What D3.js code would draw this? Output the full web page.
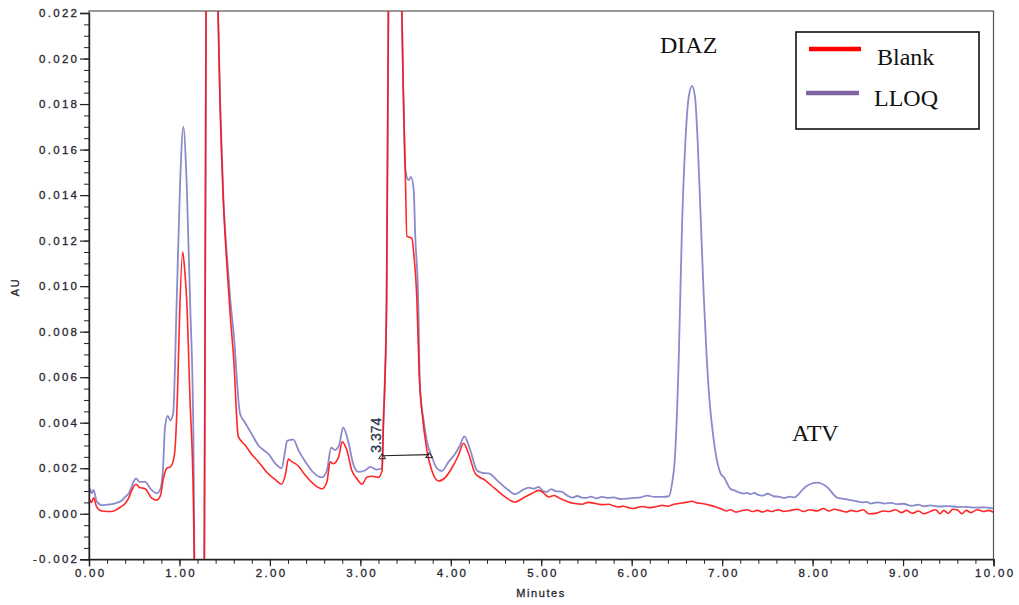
<!DOCTYPE html>
<html><head><meta charset="utf-8">
<script src="https://cdn.jsdelivr.net/npm/d3@7"></script>
<style>
html,body{margin:0;padding:0;background:#fff;}
svg{display:block;}
.tk text{font-family:"Liberation Sans",Arial,sans-serif;font-size:11.5px;letter-spacing:2.3px;fill:#262630;stroke:#262630;stroke-width:0.3px;}
</style></head>
<body><svg id="c" width="1019" height="605"></svg>
<script>
// ---- data (time in minutes, absorbance in AU) ----
const seriesNames = ["Blank", "LLOQ"];
const xTicks = [0,1,2,3,4,5,6,7,8,9,10];
const yTicks = [-0.002,0,0.002,0.004,0.006,0.008,0.010,0.012,0.014,0.016,0.018,0.020,0.022];
const peakLabels = ["DIAZ", "ATV"];
const markerLabel = "3.374";
const markerTimes = [3.241, 3.761];
const markerAU = [0.00255, 0.0026];

const lloq = [
[0.00,0.0008],[0.01,0.0011],[0.03,0.0009],[0.05,0.00105],[0.085,0.00055],[0.14,0.00038],[0.20,0.0004],[0.25,0.00042],
[0.29,0.00046],[0.35,0.00055],[0.40,0.00074],[0.44,0.0009],[0.47,0.00118],[0.52,0.00155],[0.56,0.0014],[0.62,0.0014],
[0.69,0.00105],[0.75,0.0009],[0.79,0.0011],[0.82,0.0021],[0.84,0.0038],[0.87,0.0043],[0.90,0.0041],[0.93,0.0044],
[0.97,0.0094],[1.007,0.0145],[1.043,0.0170],[1.08,0.0145],[1.117,0.0094],[1.154,0.0035],[1.17,-0.004],[1.21,-0.009],
[1.25,-0.006],[1.275,-0.002],[1.30,0.03],[1.36,0.045],[1.41,0.026],[1.427,0.022],[1.449,0.0182],[1.486,0.0138],
[1.52,0.0116],[1.56,0.0095],[1.60,0.0079],[1.67,0.0044],[1.726,0.0040],[1.80,0.0035],[1.873,0.0030],[1.93,0.0028],
[1.99,0.0026],[2.06,0.0022],[2.13,0.0020],[2.17,0.0028],[2.19,0.0032],[2.26,0.00326],[2.315,0.0028],[2.39,0.0023],
[2.46,0.0019],[2.574,0.0016],[2.63,0.0019],[2.677,0.0029],[2.72,0.0028],[2.765,0.0030],[2.81,0.0038],[2.87,0.0031],
[2.92,0.0022],[2.98,0.00184],[3.05,0.0019],[3.11,0.00206],[3.18,0.00194],[3.24,0.0020],[3.255,0.004],[3.27,0.0058],
[3.29,0.0094],[3.31,0.022],[3.34,0.03],[3.40,0.034],[3.45,0.025],[3.459,0.022],[3.477,0.0182],[3.496,0.0152],
[3.532,0.01466],[3.56,0.0148],[3.59,0.01422],[3.606,0.0123],[3.64,0.0094],[3.66,0.0054],[3.70,0.0041],[3.735,0.0032],
[3.79,0.0025],[3.846,0.0020],[3.90,0.00188],[3.975,0.00228],[4.05,0.00265],[4.10,0.0030],[4.15,0.0034],[4.215,0.0028],
[4.29,0.0019],[4.35,0.0018],[4.42,0.00177],[4.53,0.0014],[4.64,0.00103],[4.71,0.00086],[4.79,0.00103],[4.86,0.00115],
[4.92,0.0011],[4.97,0.00118],[5.02,0.0010],[5.06,0.00096],[5.11,0.00108],[5.155,0.0010],[5.23,0.00096],[5.28,0.00082],
[5.34,0.00071],[5.40,0.00078],[5.45,0.00071],[5.50,0.0007],[5.55,0.00075],[5.61,0.00068],[5.67,0.00074],[5.73,0.0007],
[5.80,0.00072],[5.87,0.00065],[5.966,0.00067],[6.05,0.0007],[6.10,0.00072],[6.17,0.0008],[6.25,0.00074],[6.335,0.00074],
[6.41,0.00077],[6.445,0.0013],[6.48,0.0026],[6.52,0.0068],[6.556,0.0126],[6.593,0.0163],[6.63,0.0183],[6.667,0.0188],
[6.70,0.0183],[6.73,0.0163],[6.76,0.0133],[6.795,0.0097],[6.83,0.0068],[6.86,0.0050],[6.89,0.0038],[6.94,0.0024],
[6.98,0.0018],[7.02,0.0016],[7.09,0.0011],[7.15,0.0010],[7.20,0.00092],[7.24,0.00089],[7.28,0.00092],[7.31,0.00086],
[7.36,0.00092],[7.39,0.00084],[7.45,0.0008],[7.50,0.00088],[7.57,0.00077],[7.62,0.00075],[7.68,0.0007],[7.75,0.00075],
[7.80,0.00072],[7.83,0.0008],[7.92,0.00118],[8.05,0.00137],[8.16,0.00118],[8.27,0.00071],[8.35,0.00065],[8.42,0.0006],
[8.48,0.00055],[8.55,0.0005],[8.60,0.00052],[8.64,0.00045],[8.72,0.0005],[8.80,0.00045],[8.87,0.00048],[8.93,0.00042],
[9.00,0.00044],[9.10,0.00035],[9.17,0.0004],[9.23,0.00033],[9.30,0.00037],[9.40,0.00032],[9.50,0.00034],[9.60,0.0003],
[9.70,0.0003],[9.80,0.00027],[9.90,0.00028],[10.0,0.00023]
];

const blank = [
[0.00,0.0004],[0.01,0.0006],[0.03,0.0005],[0.05,0.0007],[0.085,0.0003],[0.14,0.00012],[0.20,0.0001],[0.25,0.0001],
[0.29,0.00015],[0.35,0.0003],[0.40,0.00045],[0.44,0.0007],[0.47,0.0010],[0.52,0.0013],[0.56,0.00115],[0.62,0.0011],
[0.69,0.0007],[0.75,0.0006],[0.79,0.0008],[0.82,0.0015],[0.86,0.0020],[0.90,0.00206],[0.93,0.0023],[0.95,0.0028],
[0.98,0.0055],[1.0,0.0085],[1.036,0.0115],[1.06,0.0106],[1.08,0.0094],[1.117,0.0050],[1.154,0.0006],[1.17,-0.004],
[1.21,-0.009],[1.25,-0.006],[1.275,-0.002],[1.30,0.03],[1.36,0.045],[1.41,0.026],[1.427,0.022],[1.449,0.018],
[1.486,0.0137],[1.52,0.0112],[1.56,0.0088],[1.60,0.0068],[1.65,0.0034],[1.73,0.0030],[1.80,0.0026],[1.87,0.0023],
[1.97,0.0018],[2.06,0.0015],[2.13,0.0013],[2.17,0.0017],[2.205,0.0024],[2.24,0.0023],[2.315,0.0021],[2.39,0.0017],
[2.50,0.00125],[2.574,0.0011],[2.63,0.0014],[2.666,0.00228],[2.70,0.0022],[2.76,0.0025],[2.80,0.00316],[2.85,0.0028],
[2.906,0.0019],[2.96,0.00155],[3.02,0.0013],[3.07,0.0016],[3.13,0.00165],[3.20,0.0016],[3.24,0.0019],[3.255,0.004],
[3.27,0.0056],[3.29,0.0094],[3.31,0.022],[3.34,0.03],[3.40,0.034],[3.45,0.025],[3.459,0.022],[3.477,0.0182],
[3.496,0.0152],[3.514,0.0122],[3.57,0.0121],[3.59,0.01145],[3.625,0.0094],[3.65,0.0062],[3.68,0.00455],[3.735,0.0028],
[3.79,0.0019],[3.864,0.00144],[3.94,0.0016],[4.01,0.0020],[4.085,0.00257],[4.14,0.0031],[4.196,0.00265],[4.27,0.00177],
[4.38,0.00147],[4.49,0.0011],[4.60,0.00074],[4.71,0.00052],[4.82,0.00074],[4.90,0.0009],[4.97,0.00103],[5.03,0.0009],
[5.08,0.00074],[5.14,0.0008],[5.19,0.00071],[5.25,0.0006],[5.30,0.00052],[5.37,0.00045],[5.45,0.00042],[5.52,0.0005],
[5.60,0.00045],[5.67,0.0004],[5.745,0.00042],[5.80,0.00035],[5.85,0.0003],[5.91,0.00033],[5.966,0.00027],[6.02,0.00023],
[6.08,0.0003],[6.13,0.00032],[6.19,0.00027],[6.25,0.0003],[6.30,0.00034],[6.335,0.00037],[6.40,0.00033],[6.45,0.0004],
[6.52,0.00045],[6.60,0.0005],[6.667,0.00055],[6.72,0.00048],[6.78,0.00045],[6.87,0.00037],[6.93,0.0003],[7.0,0.0002],
[7.05,0.00012],[7.09,0.00018],[7.15,0.00008],[7.20,0.00012],[7.28,0.00018],[7.33,0.0001],[7.39,0.00015],[7.45,0.00008],
[7.50,0.00015],[7.55,0.0001],[7.62,0.00018],[7.68,0.0001],[7.76,0.00015],[7.83,0.0002],[7.90,0.0001],[7.97,0.00018],
[8.05,0.00012],[8.12,0.00023],[8.18,0.00012],[8.24,0.0002],[8.30,0.00015],[8.37,0.00008],[8.43,0.00015],[8.49,0.0001],
[8.56,0.00018],[8.62,0.0],[8.71,0.00003],[8.78,0.00012],[8.85,0.0001],[8.92,0.00018],[8.98,0.00005],[9.04,0.00015],
[9.10,0.00002],[9.17,0.00012],[9.23,0.0],[9.30,0.0001],[9.36,0.00018],[9.41,0.0],[9.45,0.00015],[9.50,0.00002],
[9.55,0.0002],[9.60,0.00018],[9.65,0.0],[9.70,0.00015],[9.75,0.00005],[9.82,0.00018],[9.89,0.0001],[9.94,0.00015],
[10.0,0.00007]
];

// ---- layout ----
const L = 89, R = 993.5, T = 13, B = 559.3;
const svg = d3.select("#c");
const x = d3.scaleLinear().domain([0,10]).range([L,R]);
const y = d3.scaleLinear().domain([-0.002,0.022]).range([B,T]);

const fmtY = v => d3.format(".3f")(v).replace("\u2212","-");
const fmtX = v => d3.format(".2f")(v);

// frame
svg.append("rect").attr("x",L).attr("y",11).attr("width",R-L).attr("height",B-11)
  .attr("fill","none").attr("stroke","#555").attr("stroke-width",1.2);

// clip
svg.append("clipPath").attr("id","clip").append("rect")
  .attr("x",L).attr("y",T-2).attr("width",R-L).attr("height",B-T+2);

const line = d3.line().x(d=>x(d[0])).y(d=>y(d[1])).curve(d3.curveMonotoneX);
const g = svg.append("g").attr("clip-path","url(#clip)");
g.append("path").datum(lloq).attr("d",line).attr("fill","none")
  .attr("stroke","#7d7dc6").attr("stroke-width",1.8).attr("stroke-opacity",0.9);
g.append("path").datum(blank).attr("d",line).attr("fill","none")
  .attr("stroke","#ff1010").attr("stroke-width",1.6).attr("stroke-opacity",0.9);

// axes
const yMinor = d3.range(-0.002, 0.02201, 0.0005);
const xMinor = d3.range(0, 10.001, 0.2);
svg.append("g").attr("class","tk").attr("transform",`translate(${L},0)`)
  .call(d3.axisLeft(y).tickValues(yMinor).tickSize(5).tickFormat(""))
  .call(a=>a.select(".domain").remove())
  .call(a=>a.selectAll("line").attr("stroke","#222"));
svg.append("g").attr("class","tk").attr("transform",`translate(${L},0)`)
  .call(d3.axisLeft(y).tickValues(yTicks).tickSize(9).tickPadding(3).tickFormat(fmtY))
  .call(a=>a.select(".domain").attr("stroke","#222").attr("stroke-width",1.4))
  .call(a=>a.selectAll("line").attr("stroke","#222").attr("stroke-width",1.2))
  .call(a=>a.selectAll("text").attr("dx","2.3px"));
svg.append("g").attr("class","tk").attr("transform",`translate(0,${B})`)
  .call(d3.axisBottom(x).tickValues(xMinor).tickSize(4.5).tickFormat(""))
  .call(a=>a.select(".domain").remove())
  .call(a=>a.selectAll("line").attr("stroke","#222"));
svg.append("g").attr("class","tk").attr("transform",`translate(0,${B})`)
  .call(d3.axisBottom(x).tickValues(xTicks).tickSize(7).tickPadding(3).tickFormat(fmtX))
  .call(a=>a.select(".domain").attr("stroke","#222").attr("stroke-width",1.4))
  .call(a=>a.selectAll("line").attr("stroke","#222").attr("stroke-width",1.2))
  .call(a=>a.selectAll("text").attr("dx","1.2px"));

// axis titles
const sans = "Liberation Sans,Arial,sans-serif";
svg.append("text").text("Minutes")
  .attr("x",541).attr("y",596.5).attr("text-anchor","middle")
  .style("font-family",sans).style("font-size","11px")
  .style("letter-spacing","1.6px").style("fill","#262630").style("stroke","#262630").style("stroke-width","0.3px");
svg.append("text").text("AU")
  .attr("transform","translate(19,287) rotate(-90)").attr("text-anchor","middle")
  .style("font-family",sans).style("font-size","11px")
  .style("letter-spacing","1.5px").style("fill","#262630").style("stroke","#262630").style("stroke-width","0.3px");

// retention time marker
const mx0 = x(markerTimes[0]), mx1 = x(markerTimes[1]);
const my0 = y(markerAU[0]), my1 = y(markerAU[1]);
svg.append("line").attr("x1",mx0).attr("y1",my0).attr("x2",mx1).attr("y2",my1)
  .attr("stroke","#222").attr("stroke-width",1.1);
[[mx0,my0],[mx1,my1]].forEach(p=>{
  svg.append("path").attr("d",`M${p[0]-3.5},${p[1]+3} L${p[0]},${p[1]-2} L${p[0]+3.5},${p[1]+3} Z`)
    .attr("fill","none").attr("stroke","#222").attr("stroke-width",1);
});
svg.append("text").text(markerLabel)
  .attr("transform",`translate(${mx0-1},${my0-3}) rotate(-90)`)
  .style("font-family",sans).style("font-size","14px")
  .style("fill","#24344a").style("stroke","#24344a").style("stroke-width","0.3px");

// peak labels
const serif = "Liberation Serif,'Times New Roman',serif";
svg.append("text").text(peakLabels[0]).attr("x",660).attr("y",53)
  .style("font-family",serif).style("font-size","24px").style("fill","#111");
svg.append("text").text(peakLabels[1]).attr("x",792).attr("y",441)
  .style("font-family",serif).style("font-size","24px").style("fill","#111");

// legend
svg.append("rect").attr("x",796).attr("y",32).attr("width",183).attr("height",97)
  .attr("fill","#fff").attr("stroke","#111").attr("stroke-width",1.6);
const legColors = ["#ff0000","#8064a2"];
const legY = [49, 93];
const legTx = [[877,65],[874,106]];
const legX = [[809,861],[806,859]];
seriesNames.forEach((n,i)=>{
  svg.append("line").attr("x1",legX[i][0]).attr("x2",legX[i][1]).attr("y1",legY[i]).attr("y2",legY[i])
    .attr("stroke",legColors[i]).attr("stroke-width",4.5);
  svg.append("text").text(n).attr("x",legTx[i][0]).attr("y",legTx[i][1])
    .style("font-family",serif).style("font-size","24px").style("fill","#111");
});
</script></body></html>
